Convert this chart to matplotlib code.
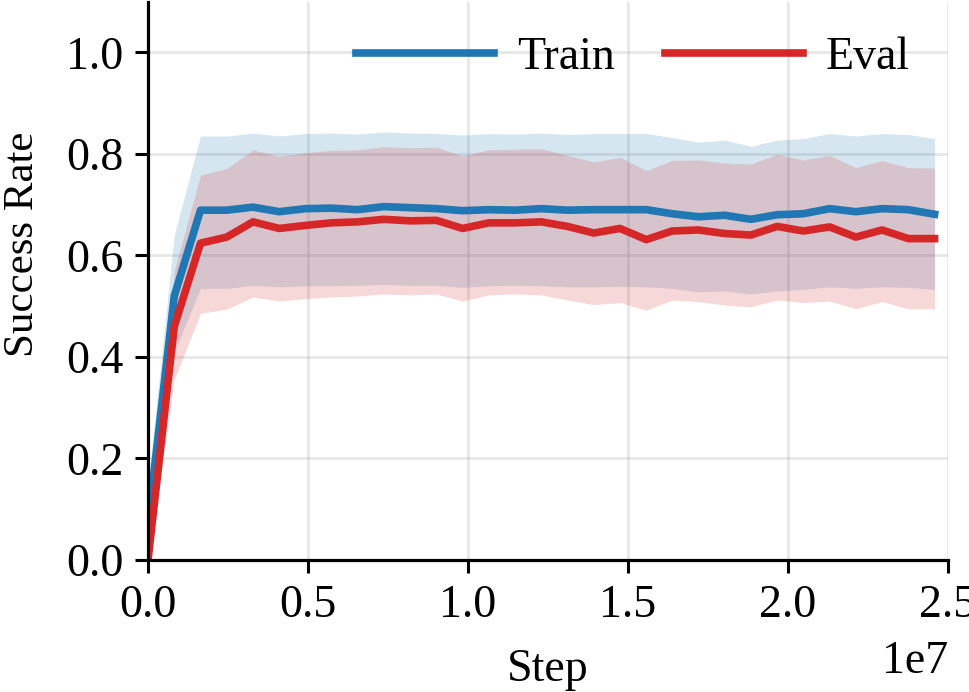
import numpy as np
import matplotlib
matplotlib.use('Agg')
import matplotlib.pyplot as plt
from matplotlib.transforms import offset_copy

plt.rcParams['font.family'] = ['Liberation Serif', 'DejaVu Serif']
plt.rcParams['font.size'] = 33

# evaluation steps (in millions)
steps = [0.0, 0.82, 1.64, 2.46, 3.28, 4.10, 4.92, 5.73, 6.55, 7.37, 8.19,
         9.01, 9.83, 10.65, 11.47, 12.29, 13.11, 13.93, 14.75, 15.57, 16.38,
         17.20, 18.02, 18.84, 19.66, 20.48, 21.30, 22.12, 22.94, 23.76, 24.58]

train_mean = [0.07, 0.52, 0.689, 0.689, 0.695, 0.686, 0.692, 0.693, 0.690, 0.696, 0.694,
              0.692, 0.688, 0.690, 0.689, 0.692, 0.689, 0.690, 0.690, 0.690, 0.682,
              0.676, 0.679, 0.671, 0.680, 0.682, 0.692, 0.686, 0.692, 0.690, 0.681]
train_lo = [0.0, 0.41, 0.535, 0.535, 0.541, 0.538, 0.540, 0.540, 0.541, 0.543, 0.541,
            0.541, 0.537, 0.540, 0.541, 0.540, 0.538, 0.538, 0.539, 0.538, 0.535,
            0.528, 0.530, 0.524, 0.530, 0.533, 0.538, 0.535, 0.538, 0.537, 0.533]
train_hi = [0.15, 0.64, 0.835, 0.835, 0.841, 0.835, 0.840, 0.841, 0.839, 0.843, 0.841,
            0.840, 0.837, 0.840, 0.839, 0.841, 0.838, 0.840, 0.840, 0.840, 0.832,
            0.823, 0.827, 0.815, 0.827, 0.830, 0.840, 0.835, 0.840, 0.838, 0.830]

eval_mean = [0.0, 0.46, 0.624, 0.636, 0.666, 0.653, 0.659, 0.664, 0.666, 0.671, 0.668,
             0.669, 0.653, 0.664, 0.664, 0.666, 0.657, 0.644, 0.653, 0.631, 0.648,
             0.650, 0.643, 0.640, 0.657, 0.648, 0.656, 0.636, 0.650, 0.633, 0.633]
eval_lo = [0.0, 0.355, 0.486, 0.494, 0.518, 0.510, 0.515, 0.518, 0.520, 0.524, 0.522,
           0.524, 0.510, 0.522, 0.524, 0.522, 0.512, 0.503, 0.507, 0.492, 0.512,
           0.509, 0.502, 0.499, 0.512, 0.507, 0.510, 0.495, 0.509, 0.495, 0.495]
eval_hi = [0.0, 0.57, 0.758, 0.771, 0.808, 0.795, 0.802, 0.807, 0.808, 0.814, 0.812,
           0.813, 0.796, 0.808, 0.809, 0.810, 0.797, 0.784, 0.793, 0.767, 0.787,
           0.788, 0.782, 0.780, 0.799, 0.788, 0.797, 0.773, 0.787, 0.773, 0.772]

x = np.array(steps) * 1e6

fig = plt.figure(figsize=(9.7, 6.92), dpi=100)
ax = fig.add_axes([0.1526, 0.1908, 0.8247, 0.807])

ax.fill_between(x, train_lo, train_hi, color='tab:blue', alpha=0.18, linewidth=0)
ax.fill_between(x, eval_lo, eval_hi, color='tab:red', alpha=0.18, linewidth=0)
ax.plot(x, train_mean, color='tab:blue', linewidth=5.5, label='Train')
ax.plot(x, eval_mean, color='tab:red', linewidth=5.5, label='Eval')

ax.set_xlim(0, 2.5e7)
ax.set_ylim(0, 1.1)
ax.set_yticks([0.0, 0.2, 0.4, 0.6, 0.8, 1.0])
ax.set_xlabel('Step')
ax.set_ylabel('Success Rate', fontsize=31)
ax.xaxis.set_label_coords(0.5, -0.158)
ax.yaxis.set_label_coords(-0.133, 0.565)

# push the "1e7" offset text down a little
off = ax.xaxis.get_offset_text()
off.set_transform(offset_copy(off.get_transform(), fig=fig, y=-10, units='dots'))

ax.grid(True, color='#bbbbbb', alpha=0.35, linewidth=2)
ax.set_axisbelow(True)
ax.spines['top'].set_visible(False)
ax.spines['right'].set_visible(False)
for s in ['left', 'bottom']:
    ax.spines[s].set_linewidth(2.3)
ax.tick_params(width=2.2, length=9.5, pad=8)

ax.legend(loc='center right', ncol=2, frameon=False, handlelength=3.0,
          columnspacing=1.1, handletextpad=0.5, borderpad=0, borderaxespad=0,
          bbox_to_anchor=(0.952, 0.9))

fig.savefig('out.png', dpi=100)
